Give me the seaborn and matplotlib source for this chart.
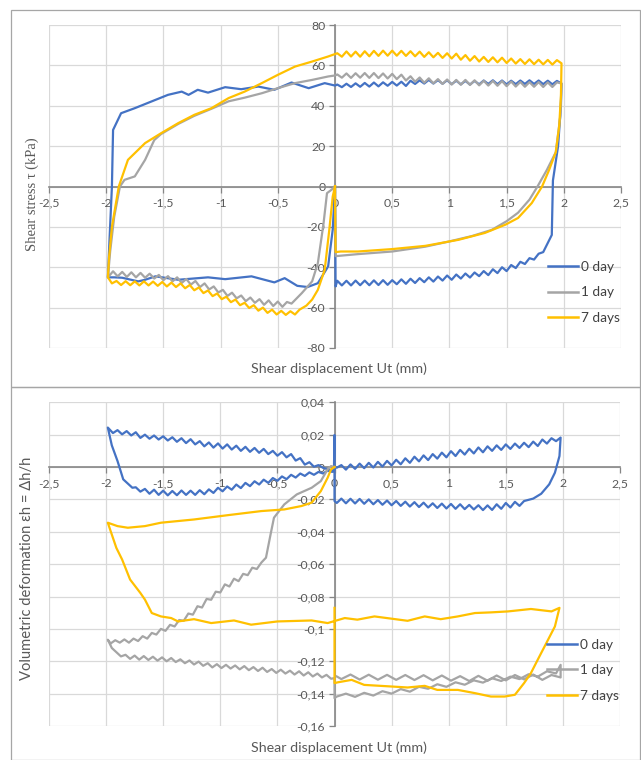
import numpy as np
import pandas as pd
import matplotlib
matplotlib.use("Agg")
import matplotlib.pyplot as plt
import seaborn as sns
from matplotlib.patches import Rectangle
from matplotlib.ticker import FuncFormatter

# ---------------- data ----------------
SERIES = ["0 day", "1 day", "7 days"]
COLORS = ["#4472C4", "#A5A5A5", "#FFC000"]

# ---- Top panel: shear stress (kPa) vs shear displacement (mm), points in loop order ----
tau_x_0 = [0, 0.005,
           0.02, 0.06, 0.10, 0.14, 0.18, 0.22, 0.26, 0.30, 0.34, 0.38, 0.42, 0.46, 0.50, 0.54, 0.58, 0.62,
           0.66, 0.70, 0.74, 0.78, 0.82, 0.86, 0.90, 0.94, 0.98, 1.02, 1.06, 1.10, 1.14, 1.18, 1.22, 1.26,
           1.30, 1.34, 1.38, 1.42, 1.46, 1.50, 1.54, 1.58, 1.62, 1.66, 1.70, 1.74, 1.78, 1.82, 1.86,
           1.895, 1.905, 1.95, 1.975, 1.98,
           1.94, 1.90, 1.86, 1.82, 1.78, 1.74, 1.70, 1.66, 1.62, 1.58, 1.54, 1.50, 1.46, 1.42, 1.38, 1.34,
           1.30, 1.26, 1.22, 1.18, 1.14, 1.10, 1.06, 1.02, 0.98, 0.94, 0.90, 0.86, 0.82, 0.78, 0.74, 0.70,
           0.66, 0.62, 0.58, 0.54, 0.50, 0.46, 0.42, 0.38, 0.34, 0.30, 0.26, 0.22, 0.18, 0.14, 0.10, 0.06,
           0.02, 0.0,
           -0.09, -0.23, -0.38, -0.53, -0.67, -0.82, -0.96, -1.11, -1.2, -1.28, -1.34, -1.46, -1.61, -1.75,
           -1.87, -1.94, -1.95, -1.97, -1.985,
           -1.93, -1.86, -1.72, -1.66, -1.57, -1.37, -1.11, -0.96, -0.73, -0.53, -0.44, -0.33, -0.24, -0.15,
           -0.06, -0.02, 0]
tau_y_0 = [0, -49.5,
           -46.7, -49.0, -46.7, -49.0, -46.6, -48.9, -46.6, -48.9, -46.5, -48.8, -46.4, -48.7, -46.4, -48.4,
           -46.0, -48.2, -45.7, -47.8, -45.4, -47.4, -45.0, -47.1, -44.6, -46.6, -44.1, -46.2, -43.6, -45.6,
           -43.1, -45.1, -42.6, -44.4, -41.9, -43.9, -41.0, -42.9, -40.0, -41.9, -38.9, -40.4, -37.3, -38.4,
           -35.5, -36.2, -33.3, -32.5, -28.0,
           -24, 3, 20, 40, 51,
           52.3, 50.6, 52.4, 50.7, 52.5, 50.8, 52.6, 50.8, 52.5, 50.7, 52.4, 50.6, 52.5, 50.7, 52.6, 50.8,
           52.5, 50.6, 52.3, 50.5, 52.3, 50.6, 52.4, 50.7, 52.6, 50.9, 52.7, 51.0, 52.8, 51.0, 52.6, 50.8,
           52.4, 49.8, 51.9, 50.0, 51.8, 49.9, 51.6, 49.6, 51.5, 49.5, 51.3, 49.4, 51.1, 49.3, 50.9, 49.2,
           50.5, 50.0,
           51.2, 48.7, 51.5, 47.9, 49.5, 48.2, 49.2, 46.5, 47.9, 45.4, 47, 45.4, 42, 38.8,
           36.3, 28, 0, -25, -45,
           -45, -45.2, -47, -46.2, -44.5, -46.2, -45, -45.9, -44.5, -47.5, -45.4, -49.2, -49.8, -47.9,
           -39.6, -21.4, 0]

tau_x_1 = [0, 0.005, 0.2, 0.5, 0.79, 1.0, 1.2, 1.37, 1.5, 1.6, 1.7, 1.77, 1.85, 1.93, 1.97, 1.98,
           1.94, 1.90, 1.86, 1.82, 1.78, 1.74, 1.70, 1.66, 1.62, 1.58, 1.54, 1.50, 1.46, 1.42, 1.38, 1.34,
           1.30, 1.26, 1.22, 1.18, 1.14, 1.10, 1.06, 1.02, 0.98, 0.94, 0.90, 0.86, 0.82, 0.78, 0.74, 0.70,
           0.66, 0.62, 0.58, 0.54, 0.50, 0.46, 0.42, 0.38, 0.34, 0.30, 0.26, 0.22, 0.18, 0.14, 0.10, 0.06,
           0.02, 0.0,
           -0.06, -0.2, -0.35, -0.5, -0.64, -0.79, -0.93, -1.08, -1.23, -1.37, -1.52, -1.58, -1.66, -1.75,
           -1.84, -1.88, -1.93, -1.965, -1.985,
           -1.94, -1.90, -1.86, -1.82, -1.78, -1.74, -1.70, -1.66, -1.62, -1.58, -1.54, -1.50, -1.46, -1.42,
           -1.38, -1.34, -1.30, -1.26, -1.22, -1.18, -1.14, -1.10, -1.06, -1.02, -0.98, -0.94, -0.90, -0.86,
           -0.82, -0.78, -0.74, -0.70, -0.66, -0.62, -0.58, -0.54, -0.50, -0.46, -0.42, -0.38,
           -0.29, -0.2, -0.15, -0.1, -0.07, -0.03, 0]
tau_y_1 = [0, -34.5, -33.5, -32.2, -29.8, -27.2, -24.5, -21.5, -17.2, -13, -6.5, 0, 8, 17, 35, 51,
           51.6, 49.3, 51.6, 49.3, 51.7, 49.4, 51.7, 49.4, 51.8, 49.5, 52.0, 49.7, 52.2, 49.9, 52.3, 50.0,
           52.4, 50.1, 52.6, 50.3, 52.8, 50.4, 52.8, 50.5, 53.0, 50.8, 53.2, 51.1, 53.6, 51.4, 54.0, 51.9,
           54.6, 52.5, 55.4, 53.2, 55.8, 53.5, 56.0, 53.7, 56.2, 53.8, 56.2, 53.9, 56.1, 53.8, 56.0, 53.9,
           55.5, 55,
           54.5, 52.8, 51.2, 48.7, 46.2, 44, 42.2, 38.5, 35, 31, 26, 23, 13.2, 5,
           3.3, 0, -15, -32, -45,
           -42.0, -44.5, -42.3, -44.8, -42.5, -45.0, -42.8, -45.2, -43.2, -45.6, -43.8, -46.4, -44.4, -47.0,
           -45.0, -47.8, -45.8, -48.6, -46.8, -49.8, -48.0, -51.0, -49.5, -52.5, -51.2, -54.2, -52.6, -55.4,
           -54.0, -56.8, -55.0, -57.6, -55.8, -58.6, -56.4, -59.2, -57.0, -59.6, -57.2, -58.0,
           -52.8, -47, -38, -18.2, -3.3, -1.6, 0]

tau_x_7 = [0, 0.005, 0.05, 0.2, 0.5, 0.79, 1.08, 1.31, 1.49, 1.6, 1.72, 1.81, 1.87, 1.93, 1.96, 1.975, 1.98,
           1.94, 1.90, 1.86, 1.82, 1.78, 1.74, 1.70, 1.66, 1.62, 1.58, 1.54, 1.50, 1.46, 1.42, 1.38, 1.34,
           1.30, 1.26, 1.22, 1.18, 1.14, 1.10, 1.06, 1.02, 0.98, 0.94, 0.90, 0.86, 0.82, 0.78, 0.74, 0.70,
           0.66, 0.62, 0.58, 0.54, 0.50, 0.46, 0.42, 0.38, 0.34, 0.30, 0.26, 0.22, 0.18, 0.14, 0.10, 0.06,
           0.02,
           -0.06, -0.2, -0.35, -0.5, -0.64, -0.79, -0.93, -1.08, -1.23,
           -1.37, -1.52, -1.66, -1.81, -1.89, -1.95, -1.975, -1.985,
           -1.95, -1.91, -1.87, -1.83, -1.79, -1.75, -1.71, -1.67, -1.63, -1.59, -1.55, -1.51, -1.47, -1.43,
           -1.39, -1.35, -1.31, -1.27, -1.23, -1.19, -1.15, -1.11, -1.07, -1.03, -0.99, -0.95, -0.91, -0.87,
           -0.83, -0.79, -0.75, -0.71, -0.67, -0.63, -0.59, -0.55, -0.51, -0.47, -0.43, -0.39, -0.35, -0.31,
           -0.25, -0.2, -0.15, -0.09, -0.05, -0.02, 0]
tau_y_7 = [0, -32.5, -32.2, -32.2, -31, -29.4, -26.4, -23, -18.9, -15.6, -8.2, 0, 8, 17, 30, 45, 61,
           62.6, 60.4, 62.7, 60.5, 62.8, 60.6, 63.0, 60.7, 63.1, 60.9, 63.4, 61.2, 63.8, 61.5, 64.0, 61.7,
           64.2, 61.9, 64.6, 62.3, 65.1, 62.8, 65.8, 63.4, 66.0, 63.7, 66.2, 64.0, 66.5, 64.2, 66.8, 64.5,
           67.0, 64.7, 67.2, 64.8, 67.3, 64.8, 67.3, 64.7, 67.2, 64.5, 67.0, 64.3, 66.8, 64.4, 66.9, 64.3,
           66.0,
           64.4, 61.9, 59.4, 55.3, 51.2, 47, 43.8, 38.8, 35.5,
           31.4, 26.4, 21.5, 13.2, 0, -20, -35, -45,
           -48.0, -46.8, -48.8, -46.9, -48.9, -47.0, -49.0, -47.0, -49.0, -47.1, -49.2, -47.3, -49.5, -47.6,
           -49.8, -48.0, -50.4, -48.8, -51.4, -50.0, -52.8, -51.5, -54.3, -53.0, -55.8, -54.6, -57.3, -56.0,
           -58.8, -57.6, -60.2, -58.8, -61.5, -60.0, -62.6, -61.0, -63.4, -61.6, -63.6, -61.8, -63.4, -61.0,
           -59.0, -56, -51.2, -41.3, -21.5, -5, 0]

# ---- Bottom panel: volumetric deformation vs shear displacement (mm) ----
eps_x_0 = [0,
           0.02, 0.06, 0.10, 0.14, 0.18, 0.22, 0.26, 0.30, 0.34, 0.38, 0.42, 0.46, 0.50, 0.54, 0.58, 0.62,
           0.66, 0.70, 0.74, 0.78, 0.82, 0.86, 0.90, 0.94, 0.98, 1.02, 1.06, 1.10, 1.14, 1.18, 1.22, 1.26,
           1.30, 1.34, 1.38, 1.42, 1.46, 1.50, 1.54, 1.58, 1.62, 1.66, 1.70, 1.74, 1.78, 1.82, 1.86, 1.90,
           1.94, 1.98,
           1.97, 1.93, 1.88, 1.81, 1.74,
           1.66, 1.62, 1.58, 1.54, 1.50, 1.46, 1.42, 1.38, 1.34, 1.30, 1.26, 1.22, 1.18, 1.14, 1.10, 1.06,
           1.02, 0.98, 0.94, 0.90, 0.86, 0.82, 0.78, 0.74, 0.70, 0.66, 0.62, 0.58, 0.54, 0.50, 0.46, 0.42,
           0.38, 0.34, 0.30, 0.26, 0.22, 0.18, 0.14, 0.10, 0.06, 0.02,
           0, 0, -0.005,
           -0.10, -0.14, -0.18, -0.22, -0.26, -0.30, -0.34, -0.38, -0.42, -0.46, -0.50, -0.54, -0.58, -0.62,
           -0.66, -0.70, -0.74, -0.78, -0.82, -0.86, -0.90, -0.94, -0.98, -1.02, -1.06, -1.10, -1.14, -1.18,
           -1.22, -1.26, -1.30, -1.34, -1.38, -1.42, -1.46, -1.50, -1.54, -1.58, -1.62, -1.66, -1.70, -1.74,
           -1.78, -1.82, -1.86, -1.90, -1.94, -1.985,
           -1.95, -1.9, -1.85, -1.77,
           -1.74, -1.70, -1.66, -1.62, -1.58, -1.54, -1.50, -1.46, -1.42, -1.38, -1.34, -1.30, -1.26, -1.22,
           -1.18, -1.14, -1.10, -1.06, -1.02, -0.98, -0.94, -0.90, -0.86, -0.82, -0.78, -0.74, -0.70, -0.66,
           -0.62, -0.58, -0.54, -0.50, -0.46, -0.42, -0.38, -0.34, -0.30, -0.26, -0.22, -0.18, -0.14, -0.10,
           -0.06, -0.02, 0]
eps_y_0 = [0,
           -0.0004, 0.0012, -0.0016, 0.0016, -0.0011, 0.0021, -0.0007, 0.0026, -0.0003, 0.0032, 0.0003,
           0.0038, 0.0010, 0.0045, 0.0017, 0.0054, 0.0026, 0.0064, 0.0035, 0.0072, 0.0043, 0.0080, 0.0052,
           0.0089, 0.0060, 0.0098, 0.0068, 0.0106, 0.0077, 0.0113, 0.0084, 0.0121, 0.0091, 0.0128, 0.0100,
           0.0134, 0.0106, 0.0140, 0.0112, 0.0145, 0.0118, 0.0150, 0.0123, 0.0157, 0.0130, 0.0170, 0.0145,
           0.0178, 0.0160, 0.0182,
           0.0068, -0.0035, -0.0107, -0.0165, -0.0195,
           -0.0210, -0.0240, -0.0215, -0.0250, -0.0222, -0.0258, -0.0230, -0.0265, -0.0237, -0.0266, -0.0236,
           -0.0262, -0.0234, -0.0260, -0.0230, -0.0258, -0.0228, -0.0256, -0.0226, -0.0253, -0.0224, -0.0250,
           -0.0220, -0.0247, -0.0217, -0.0244, -0.0214, -0.0240, -0.0210, -0.0236, -0.0207, -0.0233, -0.0204,
           -0.0230, -0.0200, -0.0227, -0.0197, -0.0225, -0.0196, -0.0224, -0.0195, -0.0222,
           -0.021, 0.0198, -0.0025,
           -0.0005, 0.0012, 0.0002, 0.0030, 0.0015, 0.0055, 0.0040, 0.0080, 0.0060, 0.0092, 0.0070, 0.0100,
           0.0080, 0.0112, 0.0088, 0.0118, 0.0094, 0.0125, 0.0100, 0.0132, 0.0108, 0.0140, 0.0114, 0.0146,
           0.0120, 0.0152, 0.0128, 0.0160, 0.0140, 0.0172, 0.0148, 0.0178, 0.0156, 0.0184, 0.0164, 0.0190,
           0.0170, 0.0195, 0.0175, 0.0200, 0.0180, 0.0215, 0.0195, 0.0222, 0.0202, 0.0228, 0.0210, 0.0244,
           0.0134, 0.0037, -0.0076, -0.0128,
           -0.0125, -0.0152, -0.0135, -0.0165, -0.0140, -0.0172, -0.0146, -0.0175, -0.0148, -0.0174, -0.0145,
           -0.0172, -0.0146, -0.0172, -0.0143, -0.0168, -0.0138, -0.0160, -0.0128, -0.0150, -0.0120, -0.0140,
           -0.0108, -0.0130, -0.0098, -0.0118, -0.0088, -0.0108, -0.0078, -0.0098, -0.0068, -0.0085, -0.0058,
           -0.0075, -0.0048, -0.0065, -0.0040, -0.0055, -0.0033, -0.0048, -0.0030, -0.0040, -0.0022, -0.0030,
           -0.0014]

eps_x_1 = [0, -0.03, -0.06, -0.12, -0.2, -0.33, -0.44, -0.53, -0.56, -0.6,
           -0.64, -0.68, -0.72, -0.76, -0.80, -0.84, -0.88, -0.92, -0.96, -1.00, -1.04, -1.08, -1.12, -1.16,
           -1.20, -1.24, -1.28, -1.32, -1.36, -1.40, -1.44, -1.48, -1.52, -1.56, -1.60, -1.64, -1.68, -1.72,
           -1.76, -1.80, -1.84, -1.88, -1.92, -1.96, -1.985,
           -1.95, -1.87,
           -1.83, -1.79, -1.75, -1.71, -1.67, -1.63, -1.59, -1.55, -1.51, -1.47, -1.43, -1.39, -1.35, -1.31,
           -1.27, -1.23, -1.19, -1.15, -1.11, -1.07, -1.03, -0.99, -0.95, -0.91, -0.87, -0.83, -0.79, -0.75,
           -0.71, -0.67, -0.63, -0.59, -0.55, -0.51, -0.47, -0.43, -0.39, -0.35, -0.31, -0.27, -0.23, -0.19,
           -0.15, -0.11, -0.07, -0.03, 0, 0,
           0.02, 0.1, 0.18, 0.26, 0.34, 0.42, 0.5, 0.58, 0.66, 0.74, 0.82, 0.9, 0.98, 1.06, 1.14, 1.22,
           1.3, 1.38, 1.46, 1.54, 1.62, 1.7, 1.78, 1.86, 1.94, 1.98, 1.98,
           1.90, 1.82, 1.74, 1.66, 1.58, 1.50, 1.42, 1.34, 1.26, 1.18, 1.10, 1.02, 0.94, 0.86, 0.78, 0.70,
           0.62, 0.54, 0.46, 0.38, 0.30, 0.22, 0.14, 0.06, 0.02]
eps_y_1 = [0, 0.0006, -0.0014, -0.0087, -0.0128, -0.0169, -0.0231, -0.0313, -0.0417, -0.056,
           -0.0590, -0.0630, -0.0622, -0.0668, -0.0660, -0.0705, -0.0690, -0.0738, -0.0725, -0.0775, -0.0770,
           -0.0820, -0.0815, -0.0868, -0.0860, -0.0912, -0.0905, -0.0950, -0.0945, -0.0985, -0.0975, -0.1012,
           -0.1000, -0.1035, -0.1025, -0.1060, -0.1045, -0.1075, -0.1060, -0.1085, -0.1065, -0.1085, -0.1070,
           -0.1090, -0.1067,
           -0.1118, -0.1170,
           -0.1160, -0.1185, -0.1165, -0.1190, -0.1168, -0.1192, -0.1172, -0.1196, -0.1176, -0.1200, -0.1180,
           -0.1205, -0.1188, -0.1212, -0.1195, -0.1220, -0.1202, -0.1228, -0.1212, -0.1238, -0.1218, -0.1242,
           -0.1222, -0.1245, -0.1226, -0.1250, -0.1230, -0.1255, -0.1236, -0.1260, -0.1240, -0.1266, -0.1248,
           -0.1272, -0.1252, -0.1276, -0.1258, -0.1282, -0.1262, -0.1288, -0.1268, -0.1294, -0.1276, -0.1300,
           -0.1284, -0.1308, -0.1304, -0.1428,
           -0.1418, -0.1400, -0.1420, -0.1395, -0.1412, -0.1385, -0.1400, -0.1372, -0.1388, -0.1358, -0.1370,
           -0.1342, -0.1358, -0.1330, -0.1345, -0.1318, -0.1332, -0.1305, -0.1322, -0.1295, -0.1310, -0.1280,
           -0.1295, -0.1262, -0.1275, -0.1222, -0.1300,
           -0.1285, -0.1315, -0.1282, -0.1312, -0.1285, -0.1318, -0.1288, -0.1320, -0.1290, -0.1322, -0.1292,
           -0.1320, -0.1288, -0.1318, -0.1286, -0.1316, -0.1285, -0.1315, -0.1284, -0.1314, -0.1283, -0.1313,
           -0.1282, -0.1310, -0.1294]

eps_x_7 = [0, -0.03, -0.06, -0.12, -0.2, -0.29, -0.44, -0.64, -0.93, -1.23, -1.52, -1.66, -1.81, -1.9, -1.985,
           -1.95, -1.91, -1.86, -1.79, -1.7, -1.66, -1.6, -1.52, -1.43, -1.37, -1.23, -1.08, -0.88, -0.73,
           -0.5, -0.2, -0.06, 0.09, 0.2, 0.35, 0.64, 0.79, 0.93, 1.08, 1.23, 1.37, 1.52, 1.72, 1.9, 1.97,
           1.93, 1.84, 1.78, 1.72, 1.66, 1.58, 1.49, 1.37, 1.23, 1.08, 0.9, 0.79, 0.64, 0.5, 0.26, 0.15,
           0.03, 0.0, 0.0]
eps_y_7 = [0, -0.0014, -0.0066, -0.0149, -0.022, -0.0241, -0.0262, -0.0272, -0.0297, -0.0324, -0.0344,
           -0.0365, -0.0375, -0.0365, -0.0344,
           -0.0417, -0.05, -0.0571, -0.0695, -0.0778, -0.0819, -0.0902, -0.0923, -0.0933, -0.0954, -0.094,
           -0.0964, -0.0948, -0.0974, -0.0954, -0.0948, -0.0964, -0.0933, -0.0943, -0.0923, -0.095,
           -0.0923, -0.094, -0.0923, -0.0902, -0.0898, -0.0892, -0.0877, -0.0892, -0.087,
           -0.0985, -0.1108, -0.119, -0.1273, -0.1335, -0.1407, -0.1418, -0.1418, -0.1397, -0.1377,
           -0.1377, -0.1352, -0.1362, -0.1356, -0.1346, -0.1315, -0.133, -0.1335, -0.087]

X_TICKS = [-2.5, -2, -1.5, -1, -0.5, 0, 0.5, 1, 1.5, 2, 2.5]
TAU_TICKS = [-80, -60, -40, -20, 0, 20, 40, 60, 80]
EPS_TICKS = [-0.16, -0.14, -0.12, -0.10, -0.08, -0.06, -0.04, -0.02, 0, 0.02, 0.04]


def long_frame(xs, ys):
    frames = []
    for name, x, y in zip(SERIES, xs, ys):
        frames.append(pd.DataFrame({"x": x, "y": y, "series": name}))
    return pd.concat(frames, ignore_index=True)


df_tau = long_frame([tau_x_0, tau_x_1, tau_x_7], [tau_y_0, tau_y_1, tau_y_7])
df_eps = long_frame([eps_x_0, eps_x_1, eps_x_7], [eps_y_0, eps_y_1, eps_y_7])

# ---------------- style ----------------
plt.rcParams["font.family"] = ["Lato", "DejaVu Sans"]
plt.rcParams["axes.unicode_minus"] = False

W, H = 641, 760
fig = plt.figure(figsize=(W / 100, H / 100), dpi=100)
fig.patch.set_facecolor("white")

fig.add_artist(Rectangle((11 / W, 1 - 387 / H), 629 / W, 377 / H, transform=fig.transFigure,
                         fill=False, edgecolor="#a6a6a6", lw=0.9))
fig.add_artist(Rectangle((11 / W, 0.0), 629 / W, 1 - 387 / H, transform=fig.transFigure,
                         fill=False, edgecolor="#a6a6a6", lw=0.9))

ax1 = fig.add_axes([49 / W, 1 - 348 / H, 572 / W, 323 / H])
ax2 = fig.add_axes([49 / W, 1 - 726 / H, 571 / W, 323.7 / H])

palette = dict(zip(SERIES, COLORS))


def fmt_num(v, _pos=None):
    v = round(v, 6)
    if abs(v) < 1e-12:
        return "0"
    return f"{v:g}".replace(".", ",")


def style(ax, yticks, ylim):
    ax.set_xlim(-2.5, 2.5)
    ax.set_ylim(*ylim)
    ax.set_xticks(X_TICKS)
    ax.set_yticks(yticks)
    ax.xaxis.set_major_formatter(FuncFormatter(fmt_num))
    ax.yaxis.set_major_formatter(FuncFormatter(fmt_num))
    ax.grid(True, color="#d9d9d9", lw=0.9)
    ax.set_axisbelow(True)
    for s in ["top", "right"]:
        ax.spines[s].set_visible(False)
    ax.spines["left"].set_position(("data", 0))
    ax.spines["bottom"].set_position(("data", 0))
    for s in ["left", "bottom"]:
        ax.spines[s].set_color("#868686")
        ax.spines[s].set_linewidth(1.2)
        ax.spines[s].set_zorder(1.5)
    ax.tick_params(axis="both", color="#868686", labelcolor="#595959", labelsize=8.8,
                   length=4, width=0.9, direction="out")
    ax.tick_params(axis="x", pad=4)
    ax.tick_params(axis="y", pad=3)
    ax.set_xlabel("")
    ax.set_ylabel("")


for ax, df in [(ax1, df_tau), (ax2, df_eps)]:
    sns.lineplot(data=df, x="x", y="y", hue="series", hue_order=SERIES, palette=palette,
                 sort=False, estimator=None, lw=1.6, ax=ax, zorder=3)

style(ax1, TAU_TICKS, (-80, 80))
style(ax2, EPS_TICKS, (-0.16, 0.04))

for ax in (ax1, ax2):
    handles, labels = ax.get_legend_handles_labels()
    leg = ax.legend(handles, labels, loc="upper left", bbox_to_anchor=(0.872, 0.27), frameon=False,
                    fontsize=9.8, handlelength=2.2, handletextpad=0.25, labelspacing=1.0,
                    borderpad=0, borderaxespad=0)
    for h in leg.get_lines():
        h.set_linewidth(1.8)
    for t in leg.get_texts():
        t.set_color("#404040")

fig.text(339 / W, 1 - 369 / H, "Shear displacement Ut (mm)", ha="center", va="center",
         fontsize=10.3, color="#595959")
fig.text(339 / W, 1 - 748 / H, "Shear displacement Ut (mm)", ha="center", va="center",
         fontsize=10.3, color="#595959")
fig.text(32 / W, 1 - 194 / H, "Shear stress τ (kPa)", ha="center", va="center", rotation=90,
         fontsize=10.5, color="#595959", family=["Liberation Serif", "DejaVu Serif"])
fig.text(27 / W, 1 - 568 / H, "Volumetric deformation εh = Δh/h", ha="center", va="center",
         rotation=90, fontsize=10.6, color="#595959", family=["Lato", "DejaVu Sans"])

fig.savefig("out.png", dpi=100, facecolor="white")
